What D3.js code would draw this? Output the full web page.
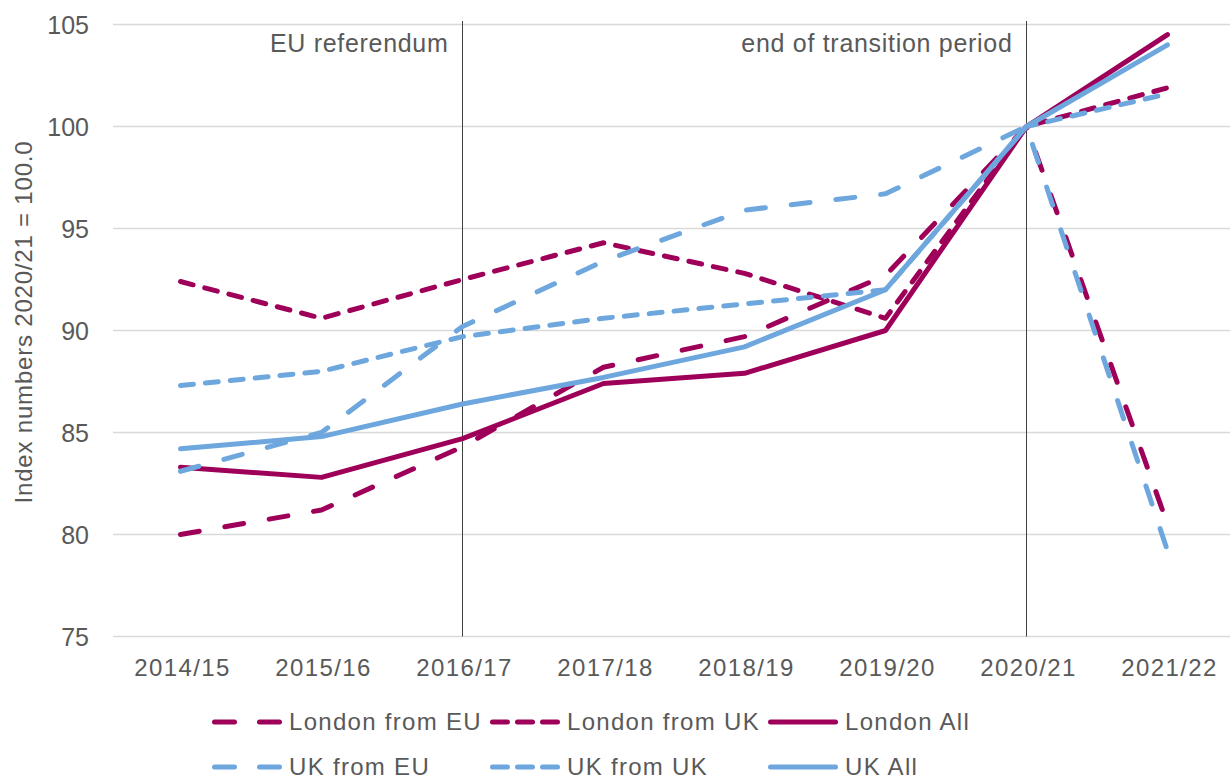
<!DOCTYPE html>
<html><head><meta charset="utf-8">
<script src="https://cdn.jsdelivr.net/npm/d3@7"></script>
<style>
html,body{margin:0;padding:0;background:#fff;}
svg{display:block;font-family:"Liberation Sans",Arial,sans-serif;}
</style></head>
<body>
<svg id="c" width="1230" height="780"></svg>
<script>
const categories = ["2014/15","2015/16","2016/17","2017/18","2018/19","2019/20","2020/21","2021/22"];
const seriesNames = ["London from EU","London from UK","London All","UK from EU","UK from UK","UK All"];
const londonFromEU = [80.0, 81.2, 84.3, 88.2, 89.7, 92.7, 100, 80.5];
const londonFromUK = [92.4, 90.6, 92.5, 94.3, 92.8, 90.6, 100, 101.9];
const londonAll    = [83.3, 82.8, 84.7, 87.4, 87.9, 90.0, 100, 104.5];
const ukFromEU     = [83.1, 85.0, 90.2, 93.4, 95.9, 96.7, 100, 79.2];
const ukFromUK     = [87.3, 88.0, 89.7, 90.6, 91.3, 92.0, 100, 101.6];
const ukAll        = [84.2, 84.8, 86.4, 87.7, 89.2, 92.0, 100, 104.0];
const yTicks = [75, 80, 85, 90, 95, 100, 105];
const markers = [{cat:"2016/17", label:"EU referendum"},{cat:"2020/21", label:"end of transition period"}];
const yTitle = "Index numbers 2020/21 = 100.0";

const purple = "#9e0059", blue = "#6da7de", textCol = "#595959";
const longDash = "19,26", shortDash = "13,12";
const series = [
  {name:seriesNames[0], values:londonFromEU, color:purple, dash:longDash},
  {name:seriesNames[1], values:londonFromUK, color:purple, dash:shortDash},
  {name:seriesNames[2], values:londonAll,    color:purple, dash:null},
  {name:seriesNames[3], values:ukFromEU,     color:blue,   dash:longDash},
  {name:seriesNames[4], values:ukFromUK,     color:blue,   dash:shortDash},
  {name:seriesNames[5], values:ukAll,        color:blue,   dash:null}
];

const svg = d3.select("#c");
const x = d3.scaleBand().domain(categories).range([110, 1238]);
const cx = c => x(c) + x.bandwidth()/2;
const y = d3.scaleLinear().domain([75,105]).range([636.5, 24.5]);

// gridlines
svg.append("g").selectAll("line").data(yTicks).join("line")
  .attr("x1",113).attr("x2",1230)
  .attr("y1",d=>y(d)).attr("y2",d=>y(d))
  .attr("stroke","#d9d9d9").attr("stroke-width",1.5);

// y axis labels
const yAxis = d3.axisLeft(y).tickValues(yTicks).tickSize(0).tickPadding(0);
const yg = svg.append("g").attr("transform","translate(89,0)").call(yAxis);
yg.select(".domain").remove();
yg.selectAll("text").attr("fill",textCol).style("font-size","25px")
  .style("font-family",'"Liberation Sans",Arial,sans-serif').attr("dy","0.35em");

// x axis labels
const xAxis = d3.axisBottom(x).tickSize(0).tickPadding(0);
const xg = svg.append("g").attr("transform","translate(2,659)").call(xAxis);
xg.select(".domain").remove();
xg.selectAll("text").attr("fill",textCol).style("font-size","24px")
  .style("letter-spacing","1.4px")
  .style("font-family",'"Liberation Sans",Arial,sans-serif').attr("dy","0.71em");

// y title
svg.append("text")
  .attr("transform","translate(32,322) rotate(-90)")
  .attr("text-anchor","middle")
  .attr("fill",textCol).style("font-size","24px").style("letter-spacing","0.8px")
  .text(yTitle);

// marker lines
const mg = svg.append("g");
mg.selectAll("line").data(markers).join("line")
  .attr("x1",d=>cx(d.cat)).attr("x2",d=>cx(d.cat))
  .attr("y1",21).attr("y2",y(75))
  .attr("stroke","#404040").attr("stroke-width",1);
mg.selectAll("text").data(markers).join("text")
  .attr("x",d=>cx(d.cat)-14).attr("y",52)
  .attr("text-anchor","end").attr("fill",textCol)
  .style("font-size","25px").style("letter-spacing","0.7px")
  .text(d=>d.label);

// series lines
const line = d3.line().x((d,i)=>cx(categories[i])).y(d=>y(d));
svg.append("g").selectAll("path").data(series).join("path")
  .attr("d",d=>line(d.values))
  .attr("fill","none").attr("stroke",d=>d.color).attr("stroke-width",5)
  .attr("stroke-linecap","round").attr("stroke-linejoin","round")
  .attr("stroke-dasharray",d=>d.dash);

// legend
const lg = svg.append("g");
const items = lg.selectAll("g").data(series).join("g")
  .attr("transform",(d,i)=>`translate(${212 + (i%3)*278},${722 + Math.floor(i/3)*45})`);
items.append("line").attr("x1",2.5).attr("x2",67.5).attr("y1",0).attr("y2",0)
  .attr("stroke",d=>d.color).attr("stroke-width",5)
  .attr("stroke-linecap","round")
  .attr("stroke-dasharray",d=>d.dash ? (d.dash===longDash ? "20,25" : "15,10") : null);
items.append("text").attr("x",77).attr("y",0).attr("dy","0.35em")
  .attr("fill",textCol).style("font-size","24px").style("letter-spacing","1.3px")
  .text(d=>d.name);
</script>
</body></html>
